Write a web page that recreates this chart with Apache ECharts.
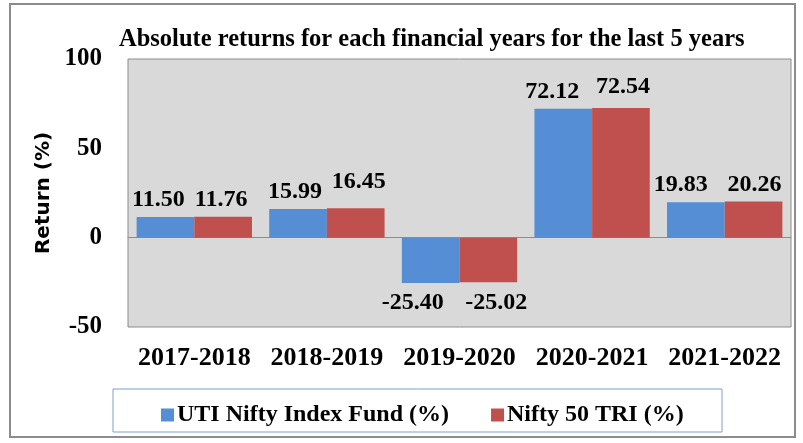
<!DOCTYPE html>
<html>
<head>
<meta charset="utf-8">
<script src="https://cdn.jsdelivr.net/npm/echarts@6/dist/echarts.min.js"></script>
<style>
  html, body { margin: 0; padding: 0; background: #fff; }
  #main { width: 803px; height: 443px; }
</style>
</head>
<body>
<div id="main"></div>
<script>
// data
const years = ['2017-2018', '2018-2019', '2019-2020', '2020-2021', '2021-2022'];
const utiFund = [11.50, 15.99, -25.40, 72.12, 19.83];
const nifty50 = [11.76, 16.45, -25.02, 72.54, 20.26];
const seriesNames = ['UTI Nifty Index Fund (%)', 'Nifty 50 TRI (%)'];

// hand-moved data labels in the original (px, [dx, dy])
const utiNudge = [[-7, 0], [-3, 0], [-18, 0], [-11, 0], [-15, 0]];
const niftyNudge = [[-2, 0], [3, -9], [8, 0], [2, -4], [1, 0]];

const serif = '"Liberation Serif", "DejaVu Serif", serif';

const chart = echarts.init(document.getElementById('main'));

// label on top for positive bars, below for negative
function barData(vals, nudge) {
  return vals.map((v, i) => ({
    value: v,
    label: {
      position: v < 0 ? 'bottom' : 'top',
      distance: v < 0 ? 8 : 5,
      offset: nudge[i]
    }
  }));
}

const labelStyle = {
  show: true,
  color: '#000',
  fontFamily: serif,
  fontWeight: 'bold',
  fontSize: 24,
  formatter: p => p.value.toFixed(2)
};

chart.setOption({
  animation: false,
  title: {
    text: 'Absolute returns for each financial years for the last 5 years',
    left: 114,
    top: 22,
    textStyle: { fontFamily: serif, fontWeight: 'bold', fontSize: 24.5, color: '#000' }
  },
  graphic: [
    { type: 'rect', shape: { x: 10, y: 4, width: 785, height: 433 },
      style: { fill: 'none', stroke: '#8c8c8c', lineWidth: 2 } },
    { type: 'rect', shape: { x: 113, y: 389, width: 609, height: 43 },
      style: { fill: 'none', stroke: '#7f9fcf', lineWidth: 1 } }
  ],
  legend: {
    data: seriesNames,
    left: 156,
    top: 398,
    itemGap: 42,
    itemWidth: 13,
    itemHeight: 13,
    icon: 'rect',
    textStyle: { fontFamily: serif, fontWeight: 'bold', fontSize: 24, color: '#000', padding: [0, 0, 0, -2] }
  },
  grid: {
    left: 128, right: 12, top: 59, bottom: 116,
    show: true, backgroundColor: '#d9d9d9', borderColor: '#8c8c8c', borderWidth: 1
  },
  xAxis: {
    type: 'category',
    data: years,
    axisLine: { show: true, onZero: true, lineStyle: { color: '#8c8c8c', width: 1 } },
    axisTick: { show: false },
    axisLabel: {
      interval: 0,
      hideOverlap: false,
      margin: 18,
      color: '#000', fontFamily: serif, fontWeight: 'bold', fontSize: 26
    },
    position: 'bottom'
  },
  yAxis: {
    type: 'value',
    min: -50, max: 100, interval: 50,
    name: 'Return (%)',
    nameLocation: 'middle',
    nameGap: 74,
    nameTextStyle: { fontFamily: '"DejaVu Sans", sans-serif', fontWeight: 'bold', fontSize: 20, color: '#000' },
    axisLine: { show: false },
    axisTick: { show: false },
    splitLine: { show: false },
    axisLabel: {
      margin: 26,
      color: '#000', fontFamily: serif, fontWeight: 'bold', fontSize: 25
    }
  },
  series: [
    { name: seriesNames[0], type: 'bar', data: barData(utiFund, utiNudge),
      itemStyle: { color: '#558ed5' }, barGap: '0%', barCategoryGap: '13%', label: labelStyle },
    { name: seriesNames[1], type: 'bar', data: barData(nifty50, niftyNudge),
      itemStyle: { color: '#c0504d' }, barGap: '0%', barCategoryGap: '13%', label: labelStyle }
  ]
});
</script>
</body>
</html>
